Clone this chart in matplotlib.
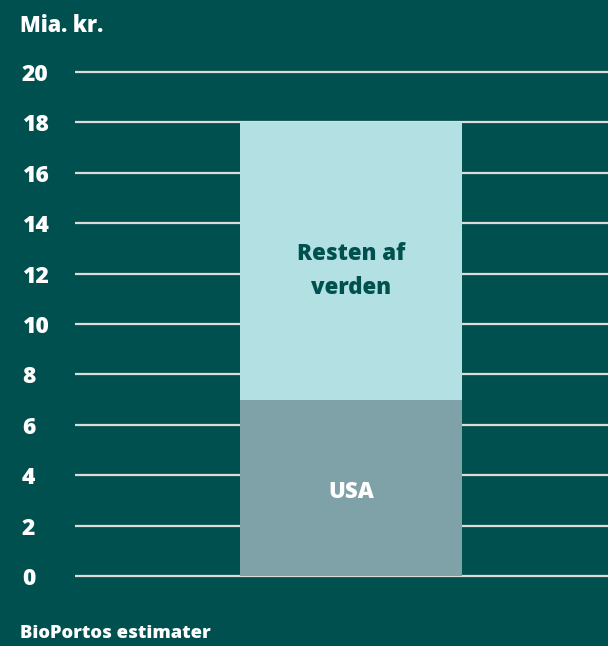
import matplotlib.pyplot as plt
from matplotlib.transforms import blended_transform_factory

# Data
categories = ["Total"]
usa = [7]
resten = [11]
segment_labels = ["USA", "Resten af\nverden"]
yticks = [0, 2, 4, 6, 8, 10, 12, 14, 16, 18, 20]

bg = "#00504f"
plt.rcParams['font.family'] = ['Open Sans', 'DejaVu Sans']

fig = plt.figure(figsize=(6.08, 6.46), dpi=100, facecolor=bg)
ax = fig.add_axes([75 / 608, 0.0967, 533 / 608, 0.8036], facecolor=bg)

ax.set_ylim(-0.3, 20.3)
ax.set_xlim(0, 1)
trans = blended_transform_factory(fig.transFigure, ax.transData)
for t in yticks:
    ax.axhline(t, color="#dcdcdc", lw=1.6, zorder=1)
    ax.text(22 / 608, t, str(t), transform=trans, ha="left", va="center_baseline",
            color="white", fontsize=16.5, fontweight="heavy")

x = [0.518]
ax.bar(x, usa, width=0.4165, color="#7fa1a8", zorder=2)
ax.bar(x, resten, width=0.4165, bottom=usa, color="#b3e0e3", zorder=2)

ax.text(x[0], 3.45, segment_labels[0], ha="center", va="center_baseline",
        color="white", fontsize=16, fontweight="heavy", zorder=3)
ax.text(x[0], 12.1, segment_labels[1], ha="center", va="center",
        color=bg, fontsize=16, fontweight="heavy", zorder=3, linespacing=1.6)

for s in ax.spines.values():
    s.set_visible(False)
ax.set_xticks([])
ax.set_yticks([])

fig.text(20 / 608, 1 - 23 / 646, "Mia. kr.", ha="left", va="center_baseline", color="white",
         fontsize=15.5, fontweight="heavy")
fig.text(20 / 608, 1 - 632 / 646, "BioPortos estimater", ha="left", va="center_baseline", color="white",
         fontsize=13.2, fontweight="heavy")

fig.savefig("out.png", dpi=100, facecolor=bg)
